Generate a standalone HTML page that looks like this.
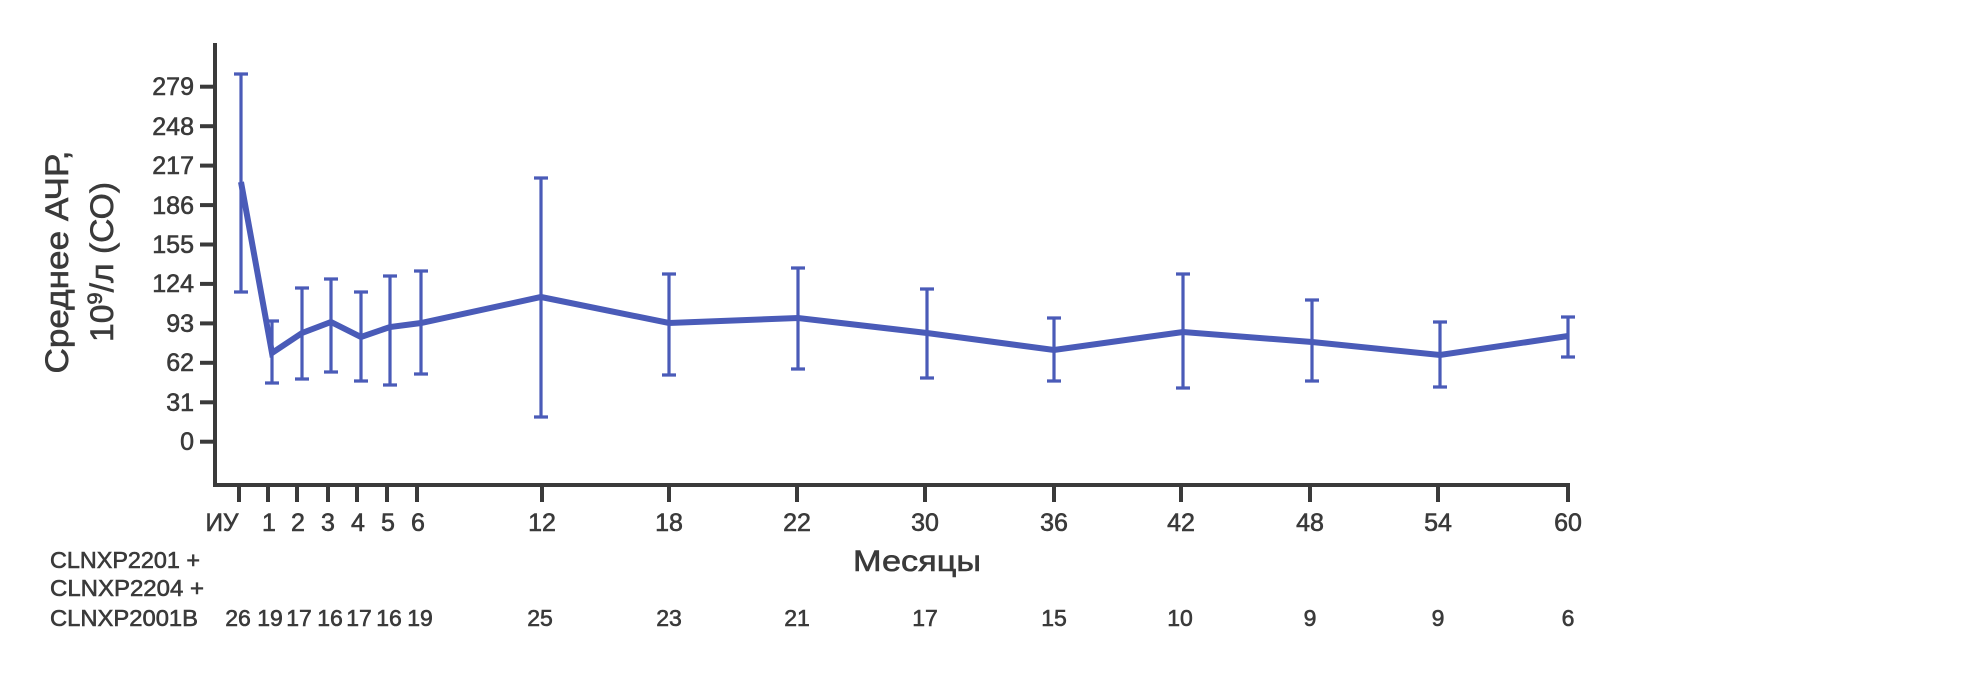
<!DOCTYPE html>
<html><head><meta charset="utf-8"><style>
html,body{margin:0;padding:0;background:#fff;}
svg{display:block;}
text{font-family:"Liberation Sans","DejaVu Sans",sans-serif;fill:#3a3a3a;stroke:#3a3a3a;stroke-width:0.6;}
</style></head><body>
<svg width="1980" height="681" viewBox="0 0 1980 681" xmlns="http://www.w3.org/2000/svg">
<rect width="1980" height="681" fill="#fff"/>
<!-- axes -->
<g stroke="#3a3a3a" stroke-width="4" fill="none">
<line x1="215" y1="43" x2="215" y2="487"/>
<line x1="213" y1="485" x2="1570" y2="485"/>
<!-- y ticks -->
<line x1="200" y1="441.7" x2="215" y2="441.7"/>
<line x1="200" y1="402.3" x2="215" y2="402.3"/>
<line x1="200" y1="362.8" x2="215" y2="362.8"/>
<line x1="200" y1="323.4" x2="215" y2="323.4"/>
<line x1="200" y1="283.9" x2="215" y2="283.9"/>
<line x1="200" y1="244.5" x2="215" y2="244.5"/>
<line x1="200" y1="205.1" x2="215" y2="205.1"/>
<line x1="200" y1="165.6" x2="215" y2="165.6"/>
<line x1="200" y1="126.2" x2="215" y2="126.2"/>
<line x1="200" y1="86.7" x2="215" y2="86.7"/>
<!-- x ticks -->
<line x1="239" y1="485" x2="239" y2="502"/>
<line x1="268" y1="485" x2="268" y2="502"/>
<line x1="297" y1="485" x2="297" y2="502"/>
<line x1="328" y1="485" x2="328" y2="502"/>
<line x1="357" y1="485" x2="357" y2="502"/>
<line x1="387" y1="485" x2="387" y2="502"/>
<line x1="417" y1="485" x2="417" y2="502"/>
<line x1="542" y1="485" x2="542" y2="502"/>
<line x1="669" y1="485" x2="669" y2="502"/>
<line x1="797" y1="485" x2="797" y2="502"/>
<line x1="925" y1="485" x2="925" y2="502"/>
<line x1="1054" y1="485" x2="1054" y2="502"/>
<line x1="1181" y1="485" x2="1181" y2="502"/>
<line x1="1310" y1="485" x2="1310" y2="502"/>
<line x1="1438" y1="485" x2="1438" y2="502"/>
<line x1="1568" y1="485" x2="1568" y2="502"/>
</g>
<!-- y tick labels -->
<g font-size="25" text-anchor="end">
<text x="194" y="450">0</text>
<text x="194" y="411">31</text>
<text x="194" y="371">62</text>
<text x="194" y="332">93</text>
<text x="194" y="292">124</text>
<text x="194" y="253">155</text>
<text x="194" y="214">186</text>
<text x="194" y="174">217</text>
<text x="194" y="135">248</text>
<text x="194" y="95">279</text>
</g>
<!-- x tick labels -->
<g font-size="25" text-anchor="middle">
<text x="222" y="531" textLength="33" lengthAdjust="spacingAndGlyphs">ИУ</text>
<text x="269" y="531">1</text>
<text x="298" y="531">2</text>
<text x="328" y="531">3</text>
<text x="358" y="531">4</text>
<text x="388" y="531">5</text>
<text x="418" y="531">6</text>
<text x="542" y="531">12</text>
<text x="669" y="531">18</text>
<text x="797" y="531">22</text>
<text x="925" y="531">30</text>
<text x="1054" y="531">36</text>
<text x="1181" y="531">42</text>
<text x="1310" y="531">48</text>
<text x="1438" y="531">54</text>
<text x="1568" y="531">60</text>
</g>
<text x="917" y="571" font-size="30" text-anchor="middle" textLength="128" lengthAdjust="spacingAndGlyphs">Месяцы</text>
<!-- left labels -->
<g font-size="23">
<text x="50" y="568" textLength="150" lengthAdjust="spacingAndGlyphs">CLNXP2201 +</text>
<text x="50" y="596" textLength="154" lengthAdjust="spacingAndGlyphs">CLNXP2204 +</text>
<text x="50" y="626" textLength="148" lengthAdjust="spacingAndGlyphs">CLNXP2001B</text>
</g>
<!-- counts -->
<g font-size="23" text-anchor="middle">
<text x="238" y="626">26</text>
<text x="270" y="626">19</text>
<text x="299" y="626">17</text>
<text x="330" y="626">16</text>
<text x="359" y="626">17</text>
<text x="389" y="626">16</text>
<text x="420" y="626">19</text>
<text x="540" y="626">25</text>
<text x="669" y="626">23</text>
<text x="797" y="626">21</text>
<text x="925" y="626">17</text>
<text x="1054" y="626">15</text>
<text x="1180" y="626">10</text>
<text x="1310" y="626">9</text>
<text x="1438" y="626">9</text>
<text x="1568" y="626">6</text>
</g>
<!-- y axis title -->
<g font-size="32" text-anchor="middle">
<text transform="translate(68,262) rotate(-90)" textLength="223" lengthAdjust="spacingAndGlyphs">Среднее АЧР,</text>
<text transform="translate(113,262) rotate(-90)" textLength="160" lengthAdjust="spacingAndGlyphs">10<tspan font-size="21" dy="-11">9</tspan><tspan dy="11">/л (СО)</tspan></text>
</g>
<!-- error bars -->
<g stroke="#4a5bb8" stroke-width="3.2" fill="none">
<path d="M241 74V292M234 74H248M234 292H248"/>
<path d="M272 321V383M265 321H279M265 383H279"/>
<path d="M302 288V379M295 288H309M295 379H309"/>
<path d="M331 279V372M324 279H338M324 372H338"/>
<path d="M361 292V381M354 292H368M354 381H368"/>
<path d="M390 276V385M383 276H397M383 385H397"/>
<path d="M421 271V374M414 271H428M414 374H428"/>
<path d="M541 178V417M534 178H548M534 417H548"/>
<path d="M669 274V375M662 274H676M662 375H676"/>
<path d="M798 268V369M791 268H805M791 369H805"/>
<path d="M927 289V378M920 289H934M920 378H934"/>
<path d="M1054 318V381M1047 318H1061M1047 381H1061"/>
<path d="M1183 274V388M1176 274H1190M1176 388H1190"/>
<path d="M1312 300V381M1305 300H1319M1305 381H1319"/>
<path d="M1440 322V387M1433 322H1447M1433 387H1447"/>
<path d="M1568 317V357M1561 317H1575M1561 357H1575"/>
</g>
<!-- mean line -->
<polyline fill="none" stroke="#4a5bb8" stroke-width="6" stroke-linejoin="miter" points="241,182 272,353 302,333 331,322 361,337 390,327 421,323 541,297 669,323 798,318 927,333 1054,350 1183,332 1312,342 1440,355 1568,336"/>
</svg>
</body></html>
